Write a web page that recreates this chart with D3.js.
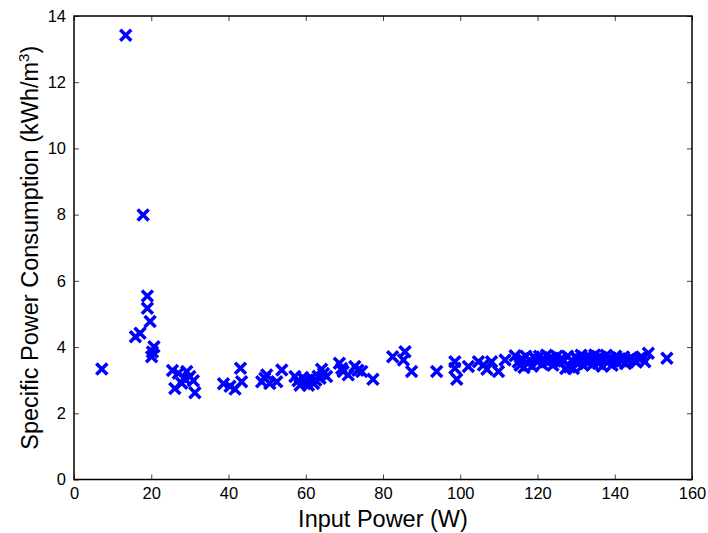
<!DOCTYPE html>
<html>
<head>
<meta charset="utf-8">
<script src="https://cdn.jsdelivr.net/npm/d3@7"></script>
<style>
  body { margin: 0; background: #fff; }
  text { font-family: "Liberation Sans", Arial, sans-serif; }
</style>
</head>
<body>
<script>
// data: input power (W) and specific power consumption (kWh/m3)
var powerLow = [7.2, 13.4, 15.9, 17.1, 17.9, 19.0, 19.0, 19.7, 20.1, 20.3, 20.7, 25.5, 26.1, 27.0, 27.9, 28.5, 29.2, 30.0, 30.9, 31.3, 38.7, 40.4, 41.7, 43.1, 43.4];
var spcLow = [3.34, 13.42, 4.31, 4.42, 7.99, 5.54, 5.17, 4.77, 3.71, 3.85, 4.01, 3.29, 2.75, 3.21, 2.91, 3.06, 3.26, 3.11, 2.98, 2.62, 2.89, 2.82, 2.73, 3.36, 2.95];

var powerMid = [48.6, 49.4, 49.9, 50.7, 52.5, 53.8, 57.2, 58.0, 58.5, 59.2, 59.8, 60.3, 60.7, 61.2, 62.0, 62.6, 63.2, 63.7, 64.1, 64.6, 65.4, 68.7, 69.3, 69.7, 71.0, 72.7, 73.5, 74.5, 77.4,
  82.5, 85.7, 85.3, 87.4, 93.9, 98.6, 98.6, 99.1, 102.1, 104.7, 106.0, 106.9, 108.1, 109.9, 111.6];
var spcMid = [2.95, 3.06, 3.16, 2.90, 2.95, 3.31, 3.11, 2.98, 2.85, 3.08, 3.00, 2.92, 2.85, 3.05, 2.90, 3.00, 3.12, 3.06, 3.33, 3.20, 3.11, 3.51, 3.35, 3.26, 3.16, 3.41, 3.30, 3.26, 3.03,
  3.71, 3.86, 3.61, 3.26, 3.26, 3.56, 3.36, 3.03, 3.41, 3.56, 3.46, 3.33, 3.56, 3.26, 3.61];

var powerHigh = [114.2, 115.0, 115.5, 116.0, 116.5, 117.0, 117.5, 118.0, 118.6, 119.0, 119.5, 120.0, 120.5, 121.2, 121.8, 122.3, 122.8, 123.4, 124.0, 124.5,
  125.0, 125.6, 126.2, 126.8, 127.3, 127.8, 128.3, 128.8, 129.3, 129.8, 130.3, 130.8, 131.3, 131.8, 132.3, 132.8, 133.3, 133.8, 134.3, 134.8,
  135.3, 135.8, 136.3, 136.8, 137.3, 137.8, 138.3, 138.8, 139.3, 139.8, 140.3, 140.8, 141.3, 141.8, 142.3, 142.8, 143.5, 144.3, 145.0, 145.6,
  146.3, 147.0, 147.8, 148.7, 153.5];
var spcHigh = [3.74, 3.55, 3.45, 3.65, 3.38, 3.72, 3.50, 3.60, 3.42, 3.70, 3.65, 3.55, 3.72, 3.48, 3.62, 3.75, 3.55, 3.68, 3.45, 3.60,
  3.72, 3.52, 3.66, 3.58, 3.35, 3.72, 3.40, 3.60, 3.35, 3.70, 3.50, 3.62, 3.75, 3.45, 3.66, 3.55, 3.72, 3.60, 3.48, 3.76,
  3.64, 3.50, 3.70, 3.42, 3.62, 3.75, 3.55, 3.68, 3.45, 3.60, 3.72, 3.52, 3.65, 3.58, 3.70, 3.50, 3.62, 3.68, 3.60, 3.55,
  3.65, 3.70, 3.56, 3.81, 3.66];

var xTicks = [0, 20, 40, 60, 80, 100, 120, 140, 160];
var yTicks = [0, 2, 4, 6, 8, 10, 12, 14];

var power = powerLow.concat(powerMid, powerHigh);
var spc = spcLow.concat(spcMid, spcHigh);
var data = power.map(function (p, i) { return { x: p, y: spc[i] }; });

var svgWidth = 708;
var svgHeight = 533;
var margin = { top: 16, right: 16, bottom: 53.5, left: 74 };
var width = svgWidth - margin.left - margin.right;
var height = svgHeight - margin.top - margin.bottom;

var svg = d3.select("body").append("svg")
  .attr("width", svgWidth)
  .attr("height", svgHeight);

var chartGroup = svg.append("g")
  .attr("transform", `translate(${margin.left}, ${margin.top})`);

var xScale = d3.scaleLinear().domain([0, 160]).range([0, width]);
var yScale = d3.scaleLinear().domain([0, 14]).range([height, 0]);

// ticks point inward on all four sides, labels only bottom/left
function styleAxis(g) {
  g.select(".domain").remove();
  g.selectAll(".tick line").attr("stroke", "#444").attr("stroke-width", 1);
  g.selectAll(".tick text").attr("font-size", 16.5).attr("fill", "#000");
}

chartGroup.append("g")
  .attr("transform", `translate(0, ${height})`)
  .call(d3.axisBottom(xScale).tickValues(xTicks).tickSize(-5).tickPadding(8))
  .call(styleAxis);

chartGroup.append("g")
  .call(d3.axisTop(xScale).tickValues(xTicks).tickSize(-5).tickFormat(""))
  .call(styleAxis);

chartGroup.append("g")
  .call(d3.axisLeft(yScale).tickValues(yTicks).tickSize(-5).tickPadding(8))
  .call(styleAxis);

chartGroup.append("g")
  .attr("transform", `translate(${width}, 0)`)
  .call(d3.axisRight(yScale).tickValues(yTicks).tickSize(-5).tickFormat(""))
  .call(styleAxis);

// box
chartGroup.append("rect")
  .attr("width", width)
  .attr("height", height)
  .attr("fill", "none")
  .attr("stroke", "#000")
  .attr("stroke-width", 1.5);

// x markers
var s = 5.5;
var marks = chartGroup.selectAll("g.mark")
  .data(data)
  .enter().append("g")
  .attr("class", "mark")
  .attr("transform", d => `translate(${xScale(d.x)}, ${yScale(d.y)})`);

marks.append("path")
  .attr("d", `M${-s},${-s}L${s},${s}M${-s},${s}L${s},${-s}`)
  .attr("stroke", "#0000ff")
  .attr("stroke-width", 3.5)
  .attr("fill", "none");

// axis labels
svg.append("text")
  .attr("x", margin.left + width / 2)
  .attr("y", 527)
  .attr("text-anchor", "middle")
  .attr("font-size", 23.5)
  .text("Input Power (W)");

var yLabel = svg.append("text")
  .attr("transform", `translate(38, ${margin.top + height / 2}) rotate(-90)`)
  .attr("text-anchor", "middle")
  .attr("font-size", 23.5);
yLabel.append("tspan").text("Specific Power Consumption (kWh/m");
yLabel.append("tspan").attr("font-size", 15).attr("dy", -9).text("3");
yLabel.append("tspan").attr("dy", 9).text(")");
</script>
</body>
</html>
